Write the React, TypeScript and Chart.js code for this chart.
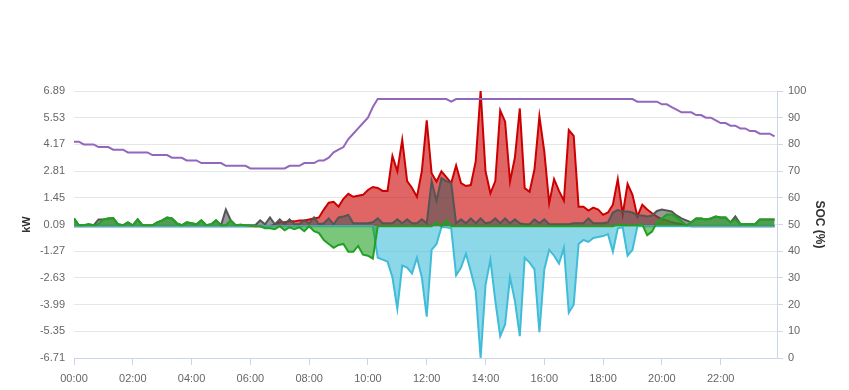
import React, { useEffect, useRef } from "react";
import { Chart, registerables } from "chart.js";

Chart.register(...registerables);

// ---- axis data ----
const STEP_MIN = 10;
const X_MAX_MIN = 1435;
const X_TICKS = [0, 120, 240, 360, 480, 600, 720, 840, 960, 1080, 1200, 1320];
const X_LABELS = ["00:00", "02:00", "04:00", "06:00", "08:00", "10:00", "12:00", "14:00", "16:00", "18:00", "20:00", "22:00"];
const KW_TICKS = [-6.71, -5.35, -3.99, -2.63, -1.27, 0.09, 1.45, 2.81, 4.17, 5.53, 6.89];
const SOC_TICKS = [0, 10, 20, 30, 40, 50, 60, 70, 80, 90, 100];

// ---- series (10-minute samples, 00:00 .. 23:50) ----
const SOC = [
  81, 81, 80, 80, 80, 79, 79, 79, 78, 78, 78, 77,
  77, 77, 77, 77, 76, 76, 76, 76, 75, 75, 75, 74,
  74, 74, 73, 73, 73, 73, 73, 72, 72, 72, 72, 72,
  71, 71, 71, 71, 71, 71, 71, 71, 72, 72, 72, 73,
  73, 73, 74, 74, 75, 77, 78, 79, 82, 84, 86, 88,
  90, 94, 97, 97, 97, 97, 97, 97, 97, 97, 97, 97,
  97, 97, 97, 97, 97, 96, 97, 97, 97, 97, 97, 97,
  97, 97, 97, 97, 97, 97, 97, 97, 97, 97, 97, 97,
  97, 97, 97, 97, 97, 97, 97, 97, 97, 97, 97, 97,
  97, 97, 97, 97, 97, 97, 97, 96, 96, 96, 96, 96,
  95, 95, 94, 93, 92, 92, 92, 91, 91, 90, 90, 89,
  88, 88, 87, 87, 86, 86, 85, 85, 84, 84, 84, 83,
];

const SOLAR = [
  0, 0, 0, 0, 0, 0, 0, 0, 0, 0, 0, 0,
  0, 0, 0, 0, 0, 0, 0, 0, 0, 0, 0, 0,
  0, 0, 0, 0, 0, 0, 0, 0, 0, 0, 0, 0,
  0, 0, 0, 0, 0, 0.1, 0.2, 0.2, 0.25, 0.25, 0.3, 0.3,
  0.35, 0.4, 0.45, 0.85, 1.2, 1.25, 1.0, 1.4, 1.65, 1.5, 1.55, 1.6,
  1.85, 2.0, 1.95, 1.8, 1.8, 3.58, 2.8, 4.4, 2.3, 1.95, 1.5, 2.8,
  5.4, 2.7, 2.27, 2.8, 2.5, 2.2, 3.1, 2.2, 2.05, 2.1, 3.3, 6.89,
  2.8, 1.68, 2.3, 5.9, 5.33, 2.27, 3.5, 6.0, 1.94, 1.76, 2.9, 5.6,
  3.8, 1.17, 2.4, 1.8, 1.3, 4.9, 4.6, 1.0, 1.0, 0.8, 0.95, 0.85,
  0.58, 0.7, 1.1, 2.4, 0.6, 2.15, 1.6, 0.5, 1.1, 0.85, 0.66, 0.49,
  0.35, 0.3, 0.2, 0.15, 0.1, 0.05, 0, 0, 0, 0, 0, 0,
  0, 0, 0, 0, 0, 0, 0, 0, 0, 0, 0, 0,
];

const LOAD = [
  0.4, 0.05, 0.05, 0.1, 0.05, 0.35, 0.35, 0.4, 0.42, 0.1, 0.05, 0.2,
  0.05, 0.35, 0.05, 0.05, 0.05, 0.2, 0.3, 0.45, 0.4, 0.15, 0.05, 0.2,
  0.15, 0.1, 0.3, 0.05, 0.1, 0.3, 0.05, 0.85, 0.3, 0.05, 0.08, 0.05,
  0.05, 0.05, 0.3, 0.1, 0.45, 0.1, 0.35, 0.1, 0.35, 0.1, 0.1, 0.3,
  0.15, 0.45, 0.1, 0.15, 0.4, 0.1, 0.45, 0.5, 0.58, 0.15, 0.15, 0.15,
  0.15, 0.2, 0.4, 0.15, 0.15, 0.15, 0.35, 0.15, 0.35, 0.15, 0.15, 0.35,
  0.15, 2.3, 1.3, 2.45, 2.3, 2.2, 0.15, 0.35, 0.15, 0.4, 0.15, 0.4,
  0.15, 0.2, 0.4, 0.15, 0.4, 0.15, 0.35, 0.15, 0.1, 0.1, 0.35, 0.15,
  0.35, 0.1, 0.1, 0.1, 0.1, 0.1, 0.15, 0.15, 0.15, 0.4, 0.15, 0.15,
  0.15, 0.2, 0.7, 0.83, 0.75, 0.75, 0.7, 0.55, 0.55, 0.5, 0.55, 0.78,
  0.85, 0.8, 0.75, 0.55, 0.4, 0.3, 0.2, 0.4, 0.4, 0.35, 0.4, 0.5,
  0.45, 0.45, 0.2, 0.5, 0.12, 0.12, 0.1, 0.1, 0.35, 0.35, 0.35, 0.35,
];

const BATTERY = [
  0.4, 0.05, 0.05, 0.1, 0.05, 0.12, 0.35, 0.4, 0.42, 0.1, 0.05, 0.2,
  0.05, 0.35, 0.05, 0.05, 0.05, 0.2, 0.3, 0.45, 0.4, 0.15, 0.05, 0.2,
  0.15, 0.1, 0.3, 0.05, 0.1, 0.3, 0.05, 0.05, 0.3, 0.05, 0.08, 0.05,
  0.03, 0, 0, -0.1, -0.1, -0.15, 0, -0.2, -0.05, -0.15, -0.05, -0.25,
  0, -0.25, -0.35, -0.7, -0.9, -1.1, -0.95, -0.9, -1.3, -1.3, -1.0, -1.45,
  -1.5, -1.65, 0, 0, 0, 0, 0, 0, 0, 0, 0, 0,
  0, 0, 0.2, 0, 0.3, 0, 0, 0, 0, 0, 0, 0,
  0, 0, 0, 0, 0, 0, 0, 0, 0, 0, 0, 0,
  0, 0, 0, 0, 0, 0, 0, 0, 0, 0, 0, 0,
  0, 0, 0, 0.1, 0.05, 0.05, 0.05, 0.05, 0.1, -0.45, -0.27, 0.2,
  0.4, 0.6, 0.6, 0.45, 0.25, 0.05, 0.2, 0.4, 0.4, 0.35, 0.4, 0.5,
  0.45, 0.45, 0.2, 0.35, 0.12, 0.12, 0.1, 0.1, 0.35, 0.35, 0.35, 0.35,
];

const GRID_EXPORT = [
  0, 0, 0, 0, 0, 0, 0, 0, 0, 0, 0, 0,
  0, 0, 0, 0, 0, 0, 0, 0, 0, 0, 0, 0,
  0, 0, 0, 0, 0, 0, 0, 0, 0, 0, 0, 0,
  0, 0, 0, 0, 0, 0, 0, 0, 0, 0, 0, 0,
  0, 0, 0, 0, 0, 0, 0, 0, 0, 0, 0, 0,
  0, 0, -1.6, -1.7, -1.8, -2.6, -4.2, -2.0, -2.1, -2.4, -1.6, -2.6,
  -4.6, -1.2, -0.9, -0.05, -0.05, -0.1, -2.5, -2.1, -1.4, -2.3, -3.3, -6.71,
  -3.0, -1.7, -3.8, -5.6, -5.0, -2.6, -3.8, -5.6, -1.6, -1.85, -2.2, -5.4,
  -2.2, -1.2, -1.5, -1.9, -1.1, -4.4, -4.0, -0.9, -0.7, -0.8, -0.6, -0.55,
  -0.5, -0.4, -1.3, -0.1, -0.05, -1.5, -1.2, 0, 0, 0, 0, 0,
  0, 0, 0, 0, 0, 0, 0, 0, 0, 0, 0, 0,
  0, 0, 0, 0, 0, 0, 0, 0, 0, 0, 0, 0,
];

const toPoints = (arr: number[]) => arr.map((y, i) => ({ x: i * STEP_MIN, y }));

export default function App() {
  const ref = useRef<HTMLCanvasElement>(null);

  useEffect(() => {
    if (!ref.current) return;
    Chart.defaults.font.family = 'Arial, "Liberation Sans", sans-serif';
    Chart.defaults.font.size = 11;
    Chart.defaults.color = "#666666";

    const area = (label: string, data: number[], line: string, fill: string) => ({
      label,
      data: toPoints(data),
      borderColor: line,
      backgroundColor: fill,
      borderWidth: 2,
      pointRadius: 0,
      tension: 0,
      fill: "origin",
      yAxisID: "y",
    });

    const chart = new Chart(ref.current, {
      type: "line",
      data: {
        datasets: [
          {
            label: "SOC",
            data: toPoints(SOC),
            borderColor: "#9467bd",
            backgroundColor: "#9467bd",
            borderWidth: 2,
            pointRadius: 0,
            tension: 0,
            fill: false,
            yAxisID: "y1",
          },
          area("Battery", BATTERY, "#22a022", "rgba(34,160,34,0.6)"),
          area("Grid export", GRID_EXPORT, "#40bcd8", "rgba(64,188,216,0.6)"),
          area("Load", LOAD, "#555555", "rgba(85,85,85,0.6)"),
          area("Solar", SOLAR, "#cc0000", "rgba(204,0,0,0.6)"),
        ] as any,
      },
      options: {
        responsive: false,
        animation: false,
        devicePixelRatio: 1,
        layout: { padding: { top: 91, left: 0, right: 0, bottom: 0 } },
        plugins: {
          legend: { display: false },
          tooltip: { enabled: false },
        },
        scales: {
          x: {
            type: "linear",
            min: 0,
            max: X_MAX_MIN,
            afterBuildTicks: (s: any) => {
              s.ticks = X_TICKS.map((v) => ({ value: v }));
            },
            afterFit: (s: any) => {
              s.height = 32;
            },
            ticks: {
              autoSkip: false,
              maxRotation: 0,
              padding: 7,
              color: "#666666",
              font: { size: 11 },
              callback: (_v: any, i: number) => X_LABELS[i],
            },
            grid: {
              display: true,
              drawOnChartArea: false,
              drawTicks: true,
              tickLength: 7,
              color: "#ccd6eb",
            },
            border: { display: true, color: "#ccd6eb" },
          },
          y: {
            type: "linear",
            position: "left",
            min: KW_TICKS[0],
            max: KW_TICKS[KW_TICKS.length - 1],
            afterBuildTicks: (s: any) => {
              s.ticks = KW_TICKS.map((v) => ({ value: v }));
            },
            afterFit: (s: any) => {
              s.width = 74;
            },
            ticks: {
              padding: 9,
              color: "#666666",
              font: { size: 11 },
              callback: (v: any) => Number(v).toFixed(2),
            },
            grid: { display: true, drawTicks: false, color: "#e6e6e6" },
            border: { display: false },
            title: {
              display: true,
              text: "kW",
              color: "#333333",
              font: { size: 11, weight: "bold" },
              padding: { top: 20, bottom: 0 },
            },
          },
          y1: {
            type: "linear",
            position: "right",
            min: 0,
            max: 100,
            afterBuildTicks: (s: any) => {
              s.ticks = SOC_TICKS.map((v) => ({ value: v }));
            },
            afterFit: (s: any) => {
              s.width = 72;
            },
            ticks: {
              padding: 5,
              color: "#666666",
              font: { size: 11 },
            },
            grid: {
              display: true,
              drawOnChartArea: false,
              drawTicks: true,
              tickLength: 6,
              color: "#ccd6eb",
            },
            border: { display: true, color: "#ccd6eb" },
            title: {
              display: true,
              text: "SOC (%)",
              color: "#333333",
              font: { size: 12, weight: "bold" },
              padding: { top: 22, bottom: 0 },
            },
          },
        },
      } as any,
    });
    return () => chart.destroy();
  }, []);

  return (
    <div style={{ position: "absolute", left: 0, top: 0, width: 849, height: 390, background: "#ffffff" }}>
      <canvas ref={ref} width={849} height={390} style={{ display: "block" }} />
    </div>
  );
}
